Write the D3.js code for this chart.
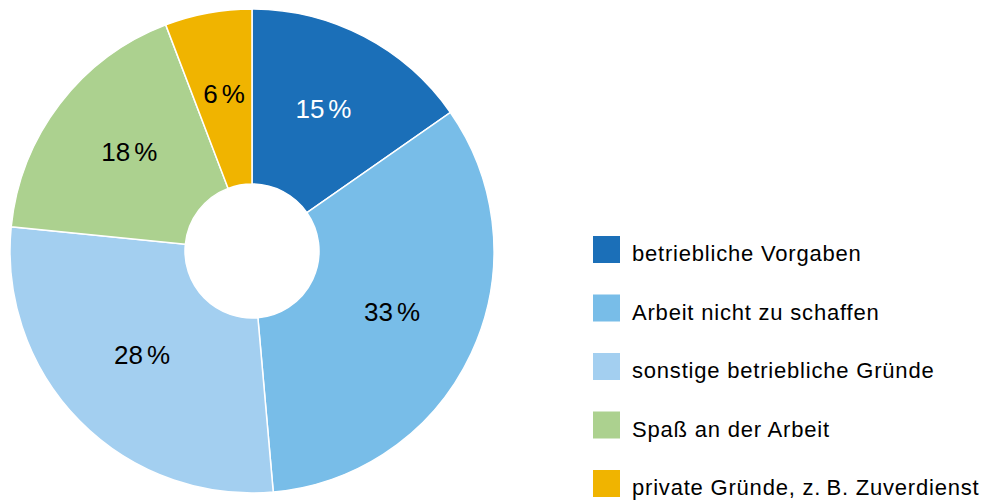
<!DOCTYPE html>
<html>
<head>
<meta charset="utf-8">
<script src="https://cdn.jsdelivr.net/npm/d3@7"></script>
<style>
  body { margin: 0; background: #fff; }
  svg { display: block; font-family: "Liberation Sans", Arial, sans-serif; }
</style>
</head>
<body>
<svg id="chart" width="983" height="501"></svg>
<script>
// shares in percent; labels show them rounded
const categories = [
  'betriebliche Vorgaben',
  'Arbeit nicht zu schaffen',
  'sonstige betriebliche Gründe',
  'Spaß an der Arbeit',
  'private Gründe, z.\u2009B. Zuverdienst'
];
const values = [15.3, 33.3, 28.0, 17.6, 5.8];
const colors = ['#1b6fb8', '#78bde8', '#a3cff0', '#acd18f', '#f0b400'];
const labelColors = ['#fff', '#000', '#000', '#000', '#000'];

const cx = 252, cy = 251;
const outerR = 242, innerR = 67;

const svg = d3.select('#chart');
const data = categories.map((c, i) => ({ name: c, value: values[i], color: colors[i], label: labelColors[i] }));

const pie = d3.pie().value(d => d.value).sort(null);
const arc = d3.arc().innerRadius(innerR).outerRadius(outerR);

const g = svg.append('g').attr('transform', `translate(${cx},${cy})`);

g.selectAll('path.slice')
  .data(pie(data))
  .enter()
  .append('path')
  .attr('class', 'slice')
  .attr('d', arc)
  .attr('fill', d => d.data.color)
  .attr('stroke', '#fff')
  .attr('stroke-width', 1.5);

const labels = g.selectAll('text.lbl')
  .data(pie(data))
  .enter()
  .append('text')
  .attr('class', 'lbl')
  .attr('transform', d => `translate(${arc.centroid(d)})`)
  .attr('text-anchor', 'middle')
  .attr('dy', '0.17em')
  .attr('font-size', 26)
  .attr('fill', d => d.data.label);
labels.append('tspan').text(d => Math.round(d.data.value));
labels.append('tspan').attr('dx', 4).text('%');

// legend
const legend = svg.append('g').attr('transform', 'translate(593,236)');
const rowH = 58.5, sw = 27;
const rows = legend.selectAll('g.row')
  .data(data)
  .enter()
  .append('g')
  .attr('class', 'row')
  .attr('transform', (d, i) => `translate(0,${i * rowH})`);
rows.append('rect')
  .attr('width', sw)
  .attr('height', sw)
  .attr('fill', d => d.color);
rows.append('text')
  .attr('x', 39)
  .attr('y', 25)
  .attr('font-size', 22)
  .attr('letter-spacing', 0.8)
  .attr('fill', '#000')
  .text(d => d.name);
</script>
</body>
</html>
